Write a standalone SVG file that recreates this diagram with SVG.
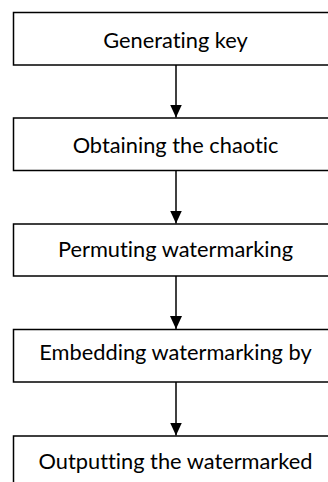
<svg xmlns="http://www.w3.org/2000/svg" width="328" height="482" viewBox="0 0 328 482">
<style>
.box{fill:#fff;stroke:#000;stroke-width:1.5}
.lbl{font-family:Lato,"Open Sans",sans-serif;font-size:21.8px;fill:#000;text-anchor:middle;font-variant-ligatures:none;font-feature-settings:"liga" 0,"dlig" 0}
.edge{stroke:#000;stroke-width:1.5;fill:none}
</style>
<defs>
<marker id="ah" markerUnits="userSpaceOnUse" markerWidth="13" markerHeight="13" refX="13" refY="6" orient="auto">
<path d="M0,0 L13,6 L0,12 Z" fill="#000"/>
</marker>
</defs>
<rect width="328" height="482" fill="#fff"/>
<g id="n1"><rect class="box" x="13.5" y="12.5" width="330" height="52.5"/><text class="lbl" x="175.5" y="48">Generating key</text></g>
<g id="n2"><rect class="box" x="13.5" y="118" width="330" height="52.5"/><text class="lbl" x="175.5" y="153">Obtaining the chaotic</text></g>
<g id="n3"><rect class="box" x="13.5" y="224" width="330" height="52"/><text class="lbl" x="175.5" y="257">Permuting watermarking</text></g>
<g id="n4"><rect class="box" x="13.5" y="329.5" width="330" height="52.5"/><text class="lbl" x="175.5" y="360">Embedding watermarking by</text></g>
<g id="n5"><rect class="box" x="13.5" y="436" width="330" height="60"/><text class="lbl" x="175.5" y="469">Outputting the watermarked</text></g>
<g id="edges">
<line class="edge" x1="176" y1="65" x2="176" y2="117.5" marker-end="url(#ah)"/>
<line class="edge" x1="176" y1="170.5" x2="176" y2="223.5" marker-end="url(#ah)"/>
<line class="edge" x1="176" y1="276" x2="176" y2="329" marker-end="url(#ah)"/>
<line class="edge" x1="176" y1="382" x2="176" y2="435.5" marker-end="url(#ah)"/>
</g>
</svg>
